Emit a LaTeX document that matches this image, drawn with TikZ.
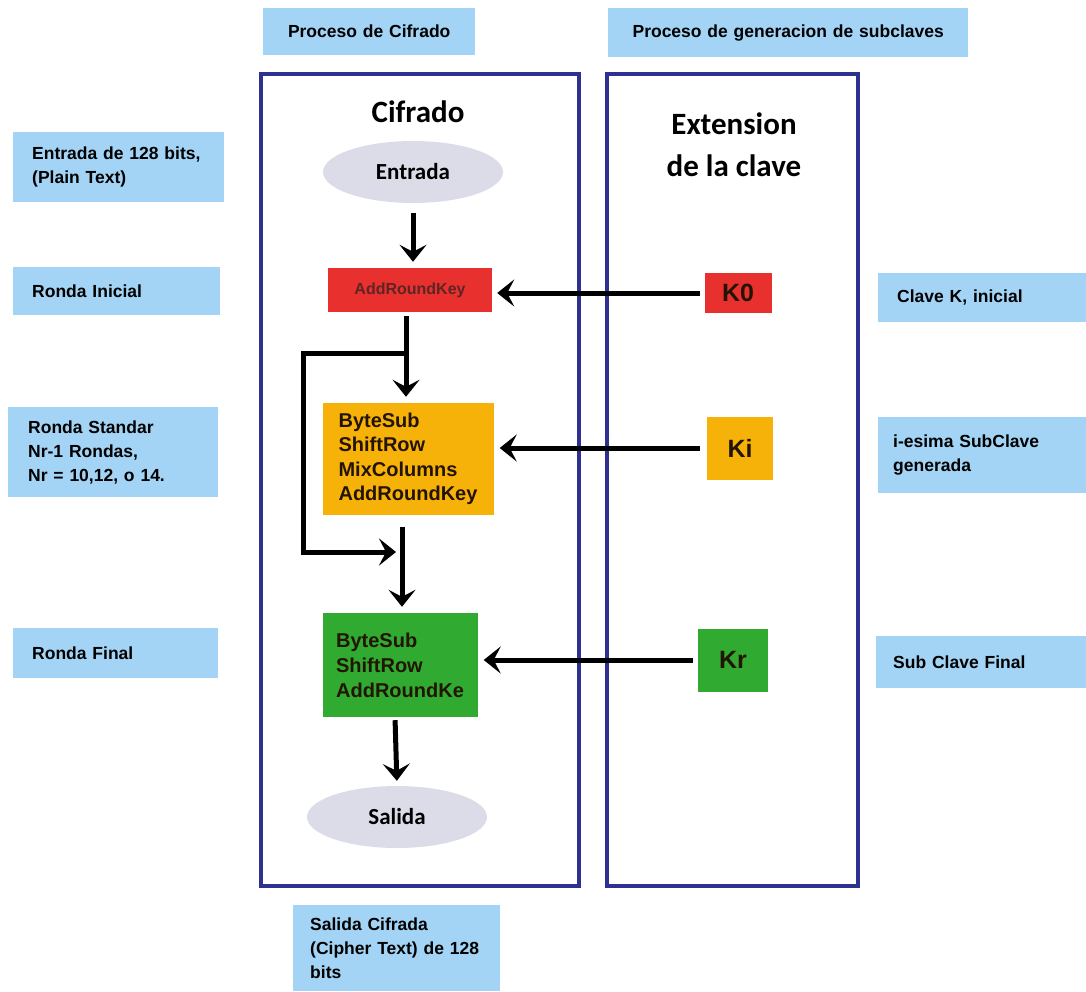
\documentclass[tikz,border=0pt]{standalone}
\usepackage{fontspec}
\setmainfont{Liberation Sans}
\newfontfamily\titfont{Carlito}
\usetikzlibrary{shapes.geometric,arrows.meta,positioning}
\definecolor{lblue}{HTML}{A3D4F5}
\definecolor{navy}{HTML}{2E3192}
\definecolor{opred}{HTML}{E8312F}
\definecolor{opyellow}{HTML}{F7B20A}
\definecolor{opgreen}{HTML}{30AA30}
\definecolor{termgray}{HTML}{DCDCE8}
\definecolor{redtext}{HTML}{5E2424}
\definecolor{darktext}{HTML}{231400}
\tikzset{
  lbl/.style={fill=lblue, anchor=north west, inner ysep=0pt, align=left,
    font=\bfseries\fontsize{17.5}{24}\selectfont},
  frame/.style={draw=navy, line width=3.5pt, minimum width=#1, inner sep=0pt},
  title/.style={font=\titfont\bfseries\fontsize{31}{42}\selectfont, align=center},
  oper/.style={inner sep=0pt, align=left, text=darktext},
  keybox/.style={inner sep=0pt, text=darktext, font=\bfseries\fontsize{25}{28}\selectfont},
  term/.style={ellipse, fill=termgray, inner sep=0pt, minimum width=180, minimum height=62,
    font=\titfont\bfseries\fontsize{23}{26}\selectfont},
  arr/.style={line width=5pt, -{Stealth[length=17pt,width=27pt,inset=7pt]}},
}
\begin{document}
\begin{tikzpicture}[x=1pt,y=-1pt]
  \useasboundingbox (0,0) rectangle (1086,991);
  % frames
  \node (cifFrame) [frame=318, minimum height=812] at (420,480) {};
  \node (extFrame) [frame=251, minimum height=812] at (732.5,480) {};
  \node (cifTitle) [title] at (418,112) {Cifrado};
  \node (extTitle) [title] at (734,145) {Extension\\de la clave};
  % labels
  \node (cifProc) [lbl, align=center, text width=200, inner xsep=6, minimum height=47] at (263,8) {Proceso de Cifrado};
  \node (genProc) [lbl, align=center, text width=348, inner xsep=6, minimum height=49] at (608,8) {Proceso de generacion de subclaves};
  \node (inLbl) [lbl, text width=173, inner xsep=19, minimum height=70] at (13,132) {Entrada de 128 bits,\\(Plain Text)};
  \node (rInLbl) [lbl, text width=169, inner xsep=19, minimum height=48] at (13,267) {Ronda Inicial};
  \node (rStdLbl) [lbl, text width=170, inner xsep=20, minimum height=90] at (8,407) {Ronda Standar\\Nr-1 Rondas,\\Nr = 10,12, o 14.};
  \node (rFinLbl) [lbl, text width=167, inner xsep=19, minimum height=50] at (13,628) {Ronda Final};
  \node (k0Lbl) [lbl, text width=170, inner xsep=19, minimum height=49] at (878,273) {Clave K, inicial};
  \node (kiLbl) [lbl, text width=178, inner xsep=15, minimum height=76] at (878,417) {i-esima SubClave\\generada};
  \node (krLbl) [lbl, text width=176, inner xsep=17, minimum height=52] at (876,636) {Sub Clave Final};
  \node (outLbl) [lbl, text width=173, inner xsep=17, minimum height=86] at (293,905) {Salida Cifrada\\(Cipher Text) de 128\\bits};
  % cipher steps
  \node (entrada) [term] at (413,172) {Entrada};
  \node (ark) [oper, fill=opred, minimum width=164, minimum height=44, text=redtext,
    font=\bfseries\fontsize{16}{20}\selectfont] at (410,290) {AddRoundKey};
  \node (yel) [oper, fill=opyellow, minimum width=171, minimum height=112,
    font=\bfseries\fontsize{20}{24.5}\selectfont] at (408,459) {ByteSub\\ShiftRow\\MixColumns\\AddRoundKey};
  \node (grn) [oper, fill=opgreen, minimum width=155, minimum height=104,
    font=\bfseries\fontsize{20}{25}\selectfont] at (400,665) {ByteSub\\ShiftRow\\AddRoundKe};
  \node (salida) [term] at (397,817) {Salida};
  % keys
  \node (k0) [keybox, fill=opred, minimum width=67, minimum height=40] at (738,293) {K0};
  \node (ki) [keybox, fill=opyellow, minimum width=66, minimum height=63] at (740,448) {Ki};
  \node (kr) [keybox, fill=opgreen, minimum width=70, minimum height=63] at (733,660) {Kr};
  % arrows
  \draw[arr, shorten <=10pt, shorten >=6pt] (entrada.south) -- (entrada.south |- ark.north);
  \draw[arr, shorten <=4pt, shorten >=5pt] (k0.west) -- (ark.east |- k0.west);
  \draw[arr, shorten <=7pt, shorten >=6pt] (ki.west) -- (yel.east |- ki.west);
  \draw[arr, shorten <=5pt, shorten >=6pt] (kr.west) -- (grn.east |- kr.west);
  \draw[arr, shorten <=4pt, shorten >=6pt] ([xshift=-4pt]ark.south) -- ([xshift=-4pt]ark.south |- yel.north);
  \coordinate (split) at (406,353);
  \coordinate (loopCorner) at (303,552);
  \coordinate (merge) at (396,552);
  \draw[arr] (split) -| (loopCorner) -- (merge);
  \draw[arr, shorten <=12pt, shorten >=6pt] ([xshift=-6pt]yel.south) -- ([xshift=2pt]grn.north);
  \draw[arr, shorten <=3pt, shorten >=5pt] ([xshift=-5pt]grn.south) -- (salida.north);
\end{tikzpicture}
\end{document}
